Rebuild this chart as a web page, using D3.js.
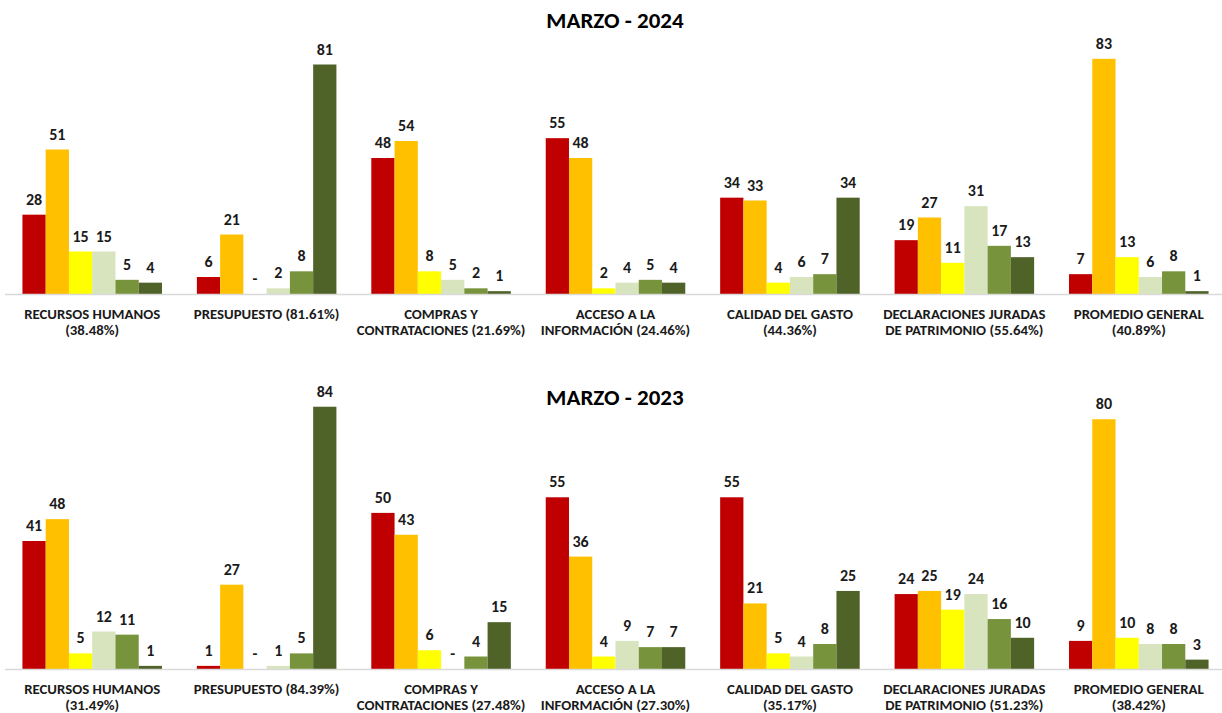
<!DOCTYPE html>
<html>
<head>
<meta charset="utf-8">
<script src="https://cdn.jsdelivr.net/npm/d3@7"></script>
<style>
  html, body { margin: 0; padding: 0; background: #ffffff; }
  svg text { font-family: Calibri, Carlito, Lato, "Open Sans", sans-serif; }
</style>
</head>
<body>
<svg id="chart"></svg>
<script>
// Series colours (one per level, left to right inside each group)
const seriesColors = ['#C00000', '#FFC000', '#FFFF00', '#D7E4BD', '#77933C', '#4F6228'];

// Category labels, already split in lines
const categories2024 = [
    ['RECURSOS HUMANOS', '(38.48%)'],
    ['PRESUPUESTO (81.61%)'],
    ['COMPRAS Y', 'CONTRATACIONES (21.69%)'],
    ['ACCESO A LA', 'INFORMACIÓN (24.46%)'],
    ['CALIDAD DEL GASTO', '(44.36%)'],
    ['DECLARACIONES JURADAS', 'DE PATRIMONIO (55.64%)'],
    ['PROMEDIO GENERAL', '(40.89%)']
];
const categories2023 = [
    ['RECURSOS HUMANOS', '(31.49%)'],
    ['PRESUPUESTO (84.39%)'],
    ['COMPRAS Y', 'CONTRATACIONES (27.48%)'],
    ['ACCESO A LA', 'INFORMACIÓN (27.30%)'],
    ['CALIDAD DEL GASTO', '(35.17%)'],
    ['DECLARACIONES JURADAS', 'DE PATRIMONIO (51.23%)'],
    ['PROMEDIO GENERAL', '(38.42%)']
];

// Values per category (6 series each)
const values2024 = [
    [28, 51, 15, 15, 5, 4],
    [6, 21, 0, 2, 8, 81],
    [48, 54, 8, 5, 2, 1],
    [55, 48, 2, 4, 5, 4],
    [34, 33, 4, 6, 7, 34],
    [19, 27, 11, 31, 17, 13],
    [7, 83, 13, 6, 8, 1]
];
const values2023 = [
    [41, 48, 5, 12, 11, 1],
    [1, 27, 0, 1, 5, 84],
    [50, 43, 6, 0, 4, 15],
    [55, 36, 4, 9, 7, 7],
    [55, 21, 5, 4, 8, 25],
    [24, 25, 19, 24, 16, 10],
    [9, 80, 10, 8, 8, 3]
];

const width = 1222, height = 713;
const svg = d3.select('#chart').attr('width', width).attr('height', height);

function drawPanel(cfg) {
    const g = svg.append('g');

    const x0 = d3.scaleBand()
        .domain(d3.range(cfg.categories.length))
        .range([5, 1226])
        .paddingInner(0.2)
        .paddingOuter(0.1);

    const x1 = d3.scaleBand()
        .domain(d3.range(seriesColors.length))
        .range([0, x0.bandwidth()]);

    const y = d3.scaleLinear()
        .domain([0, 90])
        .range([cfg.baseline, cfg.top]);

    // title
    g.append('text')
        .attr('x', 615)
        .attr('y', cfg.titleY)
        .attr('text-anchor', 'middle')
        .style('font-size', '23px')
        .style('font-weight', 'bold')
        .style('fill', '#000')
        .text(cfg.title);

    const groups = g.selectAll('.group')
        .data(cfg.values)
        .join('g')
        .attr('class', 'group')
        .attr('transform', (d, i) => `translate(${x0(i)},0)`);

    groups.selectAll('rect')
        .data(d => d)
        .join('rect')
        .attr('x', (d, j) => x1(j))
        .attr('y', d => y(d))
        .attr('width', x1.bandwidth())
        .attr('height', d => y(0) - y(d))
        .style('fill', (d, j) => seriesColors[j]);

    groups.selectAll('.val')
        .data(d => d)
        .join('text')
        .attr('class', 'val')
        .attr('x', (d, j) => x1(j) + x1.bandwidth() / 2)
        .attr('y', d => y(d) - 10)
        .attr('text-anchor', 'middle')
        .style('font-size', '16px')
        .style('font-weight', 'bold')
        .style('fill', '#1a1a1a')
        .text(d => d === 0 ? '-' : d);

    // baseline
    g.append('line')
        .attr('x1', 5)
        .attr('x2', 1222)
        .attr('y1', y(0) + 0.5)
        .attr('y2', y(0) + 0.5)
        .style('stroke', '#D9D9D9')
        .style('stroke-width', 1.5);

    // category labels
    const labels = g.selectAll('.cat')
        .data(cfg.categories)
        .join('text')
        .attr('class', 'cat')
        .attr('x', (d, i) => x0(i) + x0.bandwidth() / 2)
        .attr('y', cfg.baseline + 24.5)
        .attr('text-anchor', 'middle')
        .style('font-size', '14.8px')
        .style('font-weight', 'bold')
        .style('fill', '#1a1a1a');

    labels.selectAll('tspan')
        .data(d => d)
        .join('tspan')
        .attr('x', function () { return d3.select(this.parentNode).attr('x'); })
        .attr('dy', (d, k) => k === 0 ? 0 : 16.5)
        .text(d => d);
}

drawPanel({ title: 'MARZO - 2024', titleY: 28, top: 39, baseline: 294, categories: categories2024, values: values2024 });
drawPanel({ title: 'MARZO - 2023', titleY: 405, top: 388, baseline: 669, categories: categories2023, values: values2023 });
</script>
</body>
</html>
